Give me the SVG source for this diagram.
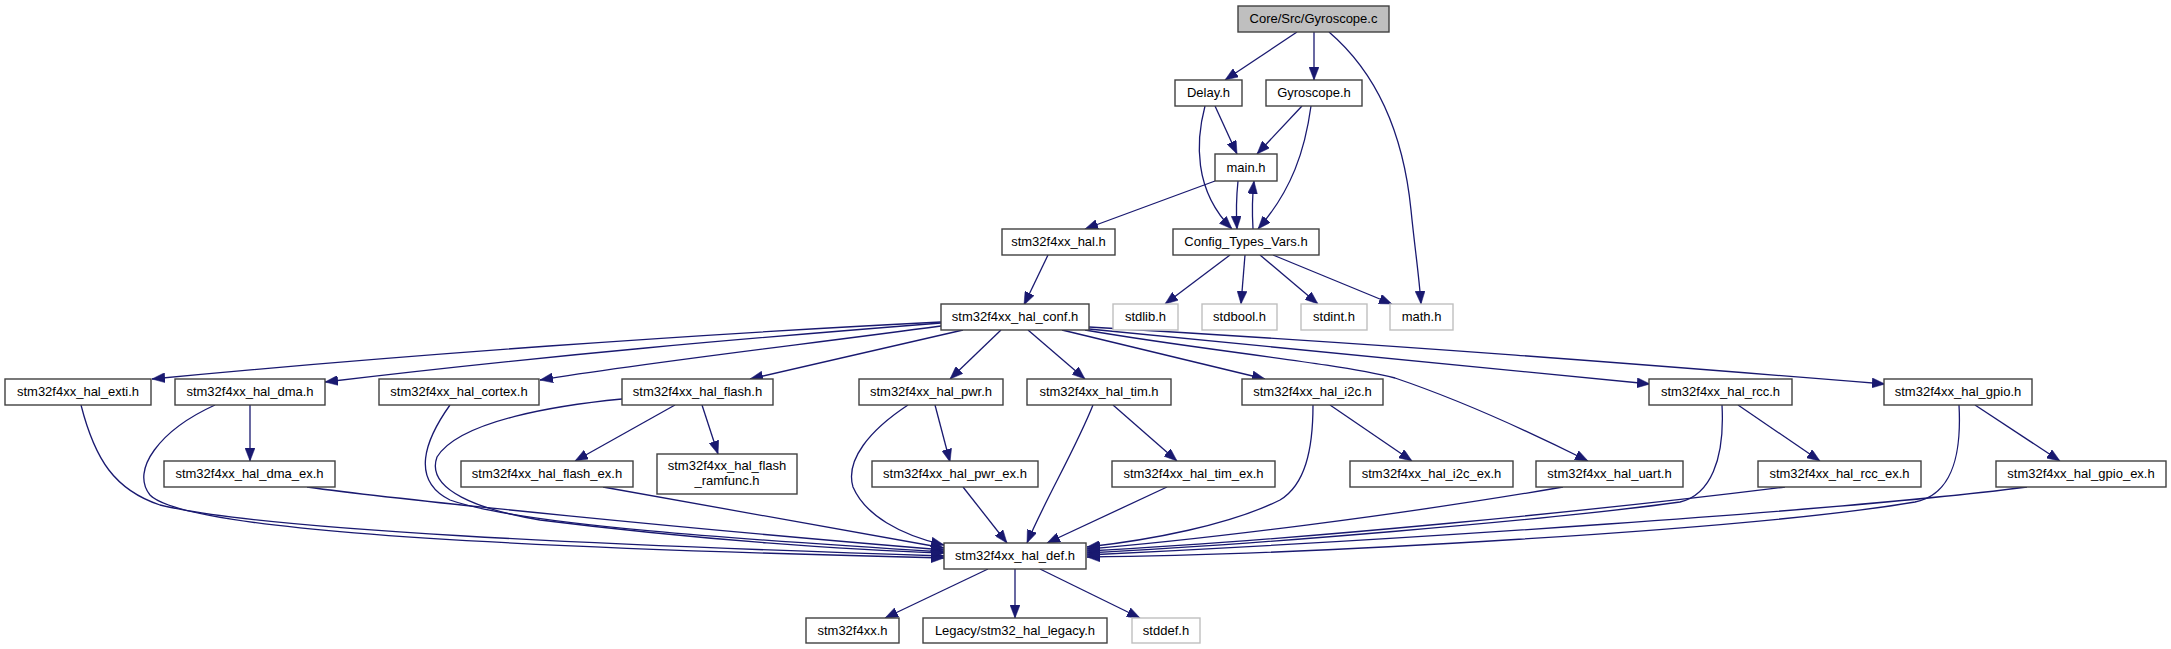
<svg xmlns="http://www.w3.org/2000/svg" width="2171" height="649" viewBox="0 0 2171 649">
<style>
.n rect{fill:#ffffff;stroke:#404040;stroke-width:1.4}
.n.sys rect{stroke:#bfbfbf}
.n.root rect{fill:#bfbfbf}
.n text{font-family:"Liberation Sans",Arial,sans-serif;font-size:13px;fill:#000;text-anchor:middle}
#edges path{fill:none;stroke:#191970;stroke-width:1.3;marker-end:url(#ah)}
</style>
<defs>
<marker id="ah" markerUnits="userSpaceOnUse" markerWidth="13" markerHeight="10" viewBox="0 0 13 10" refX="13" refY="5" orient="auto">
<path d="M0,0 L13,5 L0,10 z" fill="#191970" stroke="#191970" stroke-width="0.5"/>
</marker>
</defs>
<rect width="2171" height="649" fill="#ffffff"/>
<g id="edges">
<path d="M1297,32 L1225,80"/>
<path d="M1314,32 L1314,80"/>
<path d="M1329,32 C1385,80 1405,150 1411,210 C1415,250 1419,275 1421,304"/>
<path d="M1215,106 L1237,154"/>
<path d="M1205,106 C1196,140 1193,190 1232,229"/>
<path d="M1302,106 L1257,154"/>
<path d="M1311,106 C1305,150 1292,190 1258,229"/>
<path d="M1238,181 C1236,200 1236,212 1237,229"/>
<path d="M1253,229 C1252,212 1252,198 1254,181"/>
<path d="M1215,181 L1085,229"/>
<path d="M1048,255 L1024,305"/>
<path d="M1230,255 L1165,304"/>
<path d="M1245,255 L1241,304"/>
<path d="M1260,255 L1318,304"/>
<path d="M1273,255 L1392,304"/>
<path d="M941,322 C700,334 400,355 152,379"/>
<path d="M941,323 C750,338 550,355 325,382"/>
<path d="M941,326 C800,345 650,362 540,380"/>
<path d="M963,330 L750,379"/>
<path d="M1001,330 L950,379"/>
<path d="M1028,330 L1085,379"/>
<path d="M1062,330 L1265,379"/>
<path d="M1085,330 C1200,350 1330,362 1395,378 C1460,400 1530,432 1588,461"/>
<path d="M1089,329 C1300,350 1500,370 1650,384"/>
<path d="M1089,327 C1400,345 1650,365 1885,384"/>
<path d="M81,405 C95,460 115,490 160,505 C260,530 600,545 944,556"/>
<path d="M215,405 C160,430 130,470 150,495 C180,525 400,545 944,558"/>
<path d="M250,405 L250,461"/>
<path d="M307,487 C400,500 700,530 944,550"/>
<path d="M450,405 C425,440 410,480 450,500 C520,525 750,540 944,552"/>
<path d="M622,399 C560,405 460,420 437,457 C425,490 480,510 540,520 C700,540 850,550 944,553"/>
<path d="M675,405 L575,461"/>
<path d="M702,405 L718,454"/>
<path d="M603,487 L944,548"/>
<path d="M935,405 L950,462"/>
<path d="M908,405 C870,430 845,460 853,487 C865,515 900,535 944,545"/>
<path d="M963,487 L1007,543"/>
<path d="M1113,405 L1177,461"/>
<path d="M1093,405 C1075,450 1045,500 1027,543"/>
<path d="M1167,487 L1047,543"/>
<path d="M1330,405 L1412,461"/>
<path d="M1313,405 C1313,450 1305,485 1280,500 C1230,525 1150,540 1087,547"/>
<path d="M1563,487 C1400,515 1200,540 1087,549"/>
<path d="M1738,405 L1820,461"/>
<path d="M1722,405 C1725,460 1710,495 1680,502 C1550,520 1250,545 1087,553"/>
<path d="M1785,487 C1600,510 1300,540 1087,551"/>
<path d="M1975,405 L2060,461"/>
<path d="M1959,405 C1962,460 1950,495 1915,502 C1750,530 1300,555 1087,557"/>
<path d="M2027,487 C1850,510 1400,540 1087,555"/>
<path d="M988,569 L885,618"/>
<path d="M1015,569 L1015,618"/>
<path d="M1040,569 L1140,618"/>
</g>
<g id="n_gyro_c" class="n root"><rect x="1238" y="6" width="151" height="26"/><text x="1313.5" y="23">Core/Src/Gyroscope.c</text></g>
<g id="n_delay" class="n"><rect x="1175" y="80" width="67" height="26"/><text x="1208.5" y="97">Delay.h</text></g>
<g id="n_gyro_h" class="n"><rect x="1266" y="80" width="96" height="26"/><text x="1314" y="97">Gyroscope.h</text></g>
<g id="n_main" class="n"><rect x="1215" y="154" width="62" height="27"/><text x="1246" y="172">main.h</text></g>
<g id="n_hal" class="n"><rect x="1002" y="229" width="113" height="26"/><text x="1058.5" y="246">stm32f4xx_hal.h</text></g>
<g id="n_config" class="n"><rect x="1173" y="229" width="146" height="26"/><text x="1246" y="246">Config_Types_Vars.h</text></g>
<g id="n_conf" class="n"><rect x="941" y="304" width="148" height="26"/><text x="1015" y="321">stm32f4xx_hal_conf.h</text></g>
<g id="n_stdlib" class="n sys"><rect x="1113" y="304" width="65" height="26"/><text x="1145.5" y="321">stdlib.h</text></g>
<g id="n_stdbool" class="n sys"><rect x="1202" y="304" width="75" height="26"/><text x="1239.5" y="321">stdbool.h</text></g>
<g id="n_stdint" class="n sys"><rect x="1301" y="304" width="66" height="26"/><text x="1334" y="321">stdint.h</text></g>
<g id="n_math" class="n sys"><rect x="1390" y="304" width="63" height="26"/><text x="1421.5" y="321">math.h</text></g>
<g id="n_exti" class="n"><rect x="5" y="379" width="146" height="26"/><text x="78" y="396">stm32f4xx_hal_exti.h</text></g>
<g id="n_dma" class="n"><rect x="175" y="379" width="150" height="26"/><text x="250" y="396">stm32f4xx_hal_dma.h</text></g>
<g id="n_cortex" class="n"><rect x="379" y="379" width="160" height="26"/><text x="459" y="396">stm32f4xx_hal_cortex.h</text></g>
<g id="n_flash" class="n"><rect x="622" y="379" width="151" height="26"/><text x="697.5" y="396">stm32f4xx_hal_flash.h</text></g>
<g id="n_pwr" class="n"><rect x="859" y="379" width="144" height="26"/><text x="931" y="396">stm32f4xx_hal_pwr.h</text></g>
<g id="n_tim" class="n"><rect x="1027" y="379" width="144" height="26"/><text x="1099" y="396">stm32f4xx_hal_tim.h</text></g>
<g id="n_i2c" class="n"><rect x="1242" y="379" width="141" height="26"/><text x="1312.5" y="396">stm32f4xx_hal_i2c.h</text></g>
<g id="n_rcc" class="n"><rect x="1649" y="379" width="143" height="26"/><text x="1720.5" y="396">stm32f4xx_hal_rcc.h</text></g>
<g id="n_gpio" class="n"><rect x="1884" y="379" width="148" height="26"/><text x="1958" y="396">stm32f4xx_hal_gpio.h</text></g>
<g id="n_dma_ex" class="n"><rect x="164" y="461" width="171" height="26"/><text x="249.5" y="478">stm32f4xx_hal_dma_ex.h</text></g>
<g id="n_flash_ex" class="n"><rect x="461" y="461" width="172" height="26"/><text x="547" y="478">stm32f4xx_hal_flash_ex.h</text></g>
<g id="n_ramfunc" class="n"><rect x="657" y="454" width="140" height="40"/><text x="727" y="470">stm32f4xx_hal_flash</text><text x="727" y="485">_ramfunc.h</text></g>
<g id="n_pwr_ex" class="n"><rect x="872" y="461" width="166" height="26"/><text x="955" y="478">stm32f4xx_hal_pwr_ex.h</text></g>
<g id="n_tim_ex" class="n"><rect x="1112" y="461" width="163" height="26"/><text x="1193.5" y="478">stm32f4xx_hal_tim_ex.h</text></g>
<g id="n_i2c_ex" class="n"><rect x="1350" y="461" width="163" height="26"/><text x="1431.5" y="478">stm32f4xx_hal_i2c_ex.h</text></g>
<g id="n_uart" class="n"><rect x="1536" y="461" width="147" height="26"/><text x="1609.5" y="478">stm32f4xx_hal_uart.h</text></g>
<g id="n_rcc_ex" class="n"><rect x="1758" y="461" width="163" height="26"/><text x="1839.5" y="478">stm32f4xx_hal_rcc_ex.h</text></g>
<g id="n_gpio_ex" class="n"><rect x="1996" y="461" width="170" height="26"/><text x="2081" y="478">stm32f4xx_hal_gpio_ex.h</text></g>
<g id="n_def" class="n"><rect x="944" y="543" width="142" height="26"/><text x="1015" y="560">stm32f4xx_hal_def.h</text></g>
<g id="n_stm32f4xx" class="n"><rect x="806" y="618" width="93" height="25"/><text x="852.5" y="635">stm32f4xx.h</text></g>
<g id="n_legacy" class="n"><rect x="923" y="618" width="184" height="25"/><text x="1015" y="635">Legacy/stm32_hal_legacy.h</text></g>
<g id="n_stddef" class="n sys"><rect x="1132" y="618" width="68" height="25"/><text x="1166" y="635">stddef.h</text></g>
</svg>
